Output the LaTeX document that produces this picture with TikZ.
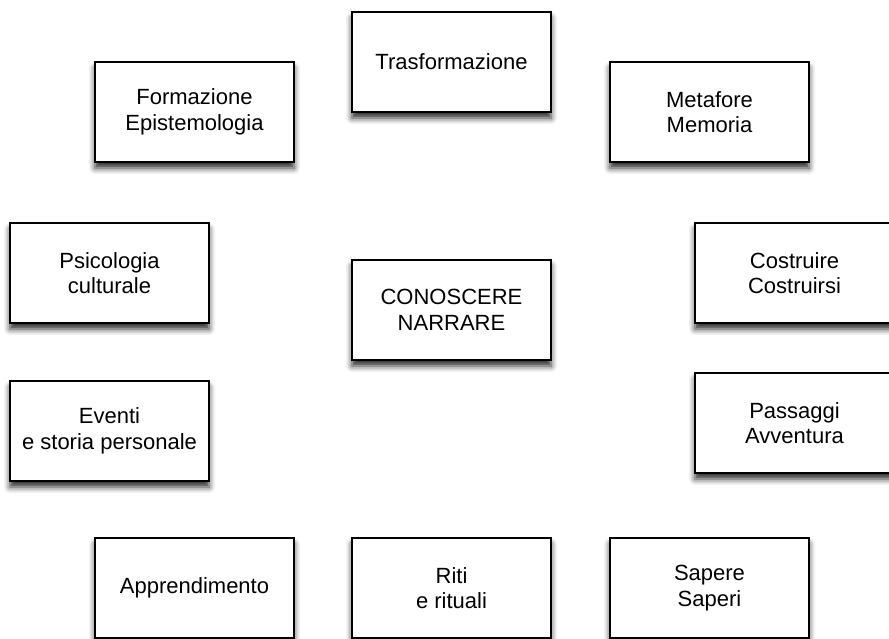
\documentclass[tikz,border=0pt]{standalone}
\usepackage{fontspec}
\setmainfont{Liberation Sans}
\usetikzlibrary{shadows.blur}
\begin{document}
\begin{tikzpicture}[x=1pt,y=-1pt,
  box/.style={draw=black, line width=1.5pt, fill=white, minimum width=199pt, minimum height=100pt,
    inner sep=0pt, align=center, font=\fontsize{22}{25.5}\selectfont,
    blur shadow={shadow xshift=0pt, shadow yshift=-6pt, shadow blur radius=6pt, shadow opacity=85}}]
\useasboundingbox (0,0) rectangle (889,638);
\node[box] (tra) at (451.5,62) {Trasformazione};
\node[box] (for) at (194.5,112) {Formazione\\Epistemologia};
\node[box] (met) at (709.5,112) {Metafore\\Memoria};
\node[box] (psi) at (109.5,273) {Psicologia\\culturale};
\node[box] (con) at (451.5,310) {CONOSCERE\\NARRARE};
\node[box] (cos) at (794.5,273) {Costruire\\Costruirsi};
\node[box] (eve) at (109.5,431) {Eventi\\e storia personale};
\node[box] (pas) at (794.5,423) {Passaggi\\Avventura};
\node[box] (app) at (194.5,588) {Apprendimento};
\node[box] (rit) at (451.5,588) {Riti\\e rituali};
\node[box] (sap) at (709.5,588) {Sapere\\Saperi};
\end{tikzpicture}
\end{document}
